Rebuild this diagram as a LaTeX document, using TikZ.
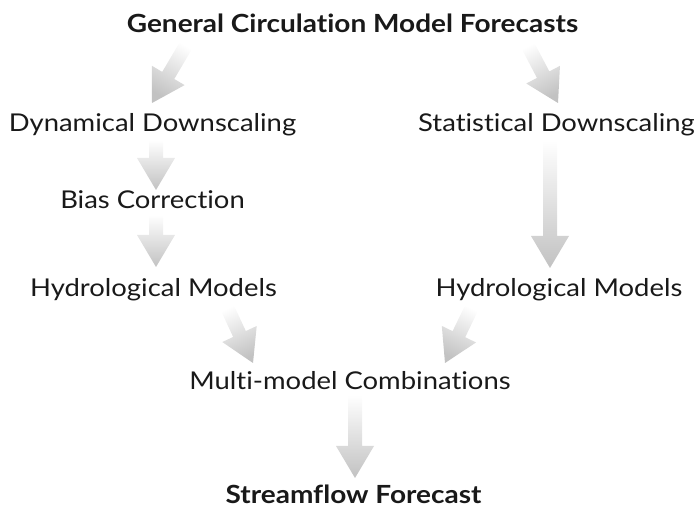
\documentclass[tikz,border=0pt]{standalone}
\usepackage{fontspec}
\setmainfont{Lato}[FakeStretch=1.12, Ligatures=NoCommon]
\usetikzlibrary{calc}
\definecolor{agray}{gray}{0.76}
\definecolor{txt}{gray}{0.1}
\tikzset{
  lbl/.style={anchor=base, inner sep=0pt, text=txt, font=\fontsize{24.5}{28}\selectfont},
  ttl/.style={anchor=base, inner sep=0pt, text=txt, font=\bfseries\fontsize{25}{28}\selectfont},
}
\newcommand\garrow[2]{%
  \pgfpointdiff{\pgfpointanchor{#1}{center}}{\pgfpointanchor{#2}{center}}%
  \pgfgetlastxy\gdx\gdy
  \pgfmathsetmacro\gsang{atan2(\gdx,-\gdy)}%
  \shade[top color=white, bottom color=agray, shading angle=\gsang]
    ($(#1)!7pt!90:(#2)$) -- ($($(#2)!32pt!(#1)$)!7pt!90:(#2)$)
    -- ($($(#2)!32pt!(#1)$)!19pt!90:(#2)$) -- (#2)
    -- ($($(#2)!32pt!(#1)$)!19pt!-90:(#2)$)
    -- ($($(#2)!32pt!(#1)$)!7pt!-90:(#2)$) -- ($(#1)!7pt!-90:(#2)$) -- cycle;
}
\begin{document}
\begin{tikzpicture}[x=1pt,y=-1pt]
\useasboundingbox (0,0) rectangle (694,510);
% text nodes (image coordinates, y downwards)
\node[ttl] (gcm) at (352.5,33) {General Circulation Model Forecasts};
\node[lbl] (dyn) at (152.5,132) {Dynamical Downscaling};
\node[lbl] (stat) at (556.5,132) {Statistical Downscaling};
\node[lbl] (bias) at (152.5,208.5) {Bias Correction};
\node[lbl] (hydl) at (153.5,296.5) {Hydrological Models};
\node[lbl] (hydr) at (559,296.5) {Hydrological Models};
\node[lbl] (multi) at (350,390) {Multi-model Combinations};
\node[ttl] (flow) at (353.5,504) {Streamflow Forecast};
% arrow end points
\coordinate (a1s) at (188,42);  \coordinate (a1e) at (152,103);
\coordinate (a2s) at (526,42);  \coordinate (a2e) at (558,103);
\coordinate (a3s) at (156,140); \coordinate (a3e) at (156,190);
\coordinate (a4s) at (156,215); \coordinate (a4e) at (156,267);
\coordinate (a5s) at (550,140); \coordinate (a5e) at (550,268);
\coordinate (a6s) at (226,305); \coordinate (a6e) at (253,363);
\coordinate (a7s) at (473,305); \coordinate (a7e) at (445,363);
\coordinate (a8s) at (355,395); \coordinate (a8e) at (355,478);
\garrow{a1s}{a1e}
\garrow{a2s}{a2e}
\garrow{a3s}{a3e}
\garrow{a4s}{a4e}
\garrow{a5s}{a5e}
\garrow{a6s}{a6e}
\garrow{a7s}{a7e}
\garrow{a8s}{a8e}
\end{tikzpicture}
\end{document}
